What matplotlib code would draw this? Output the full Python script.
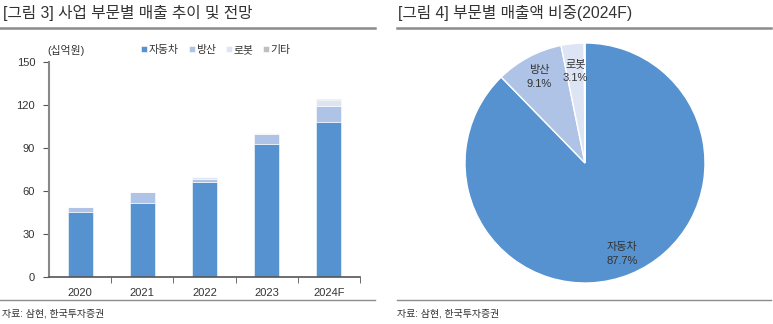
import matplotlib
matplotlib.use("Agg")
import matplotlib.pyplot as plt
import numpy as np
from matplotlib.lines import Line2D

plt.rcParams['font.family'] = ['Liberation Sans', 'Noto Sans CJK KR', 'DejaVu Sans']

# data
years = ["2020", "2021", "2022", "2023", "2024F"]
seg_names = ["자동차", "방산", "로봇", "기타"]
auto = [45.6, 51.9, 66.0, 92.8, 108.4]
defense = [3.2, 7.6, 2.4, 6.8, 10.9]
robot = [0.0, 0.0, 1.4, 0.6, 4.2]
etc = [0.0, 0.0, 0.0, 0.0, 0.7]
yticks = [0, 30, 60, 90, 120, 150]

pie_names = ["자동차", "방산", "로봇", "기타"]
pie_share = [87.7, 9.1, 3.1, 0.1]

colors = ["#5592CF", "#AEC3E6", "#DDE5F5", "#BFBFBF"]
txt = "#333333"
W, H = 773, 324

fig = plt.figure(figsize=(W / 100, H / 100), dpi=100)

def fx(px):
    return px / W

def fy(py):
    return 1 - py / H

# header / footer rules
fig.add_artist(Line2D([fx(0), fx(375)], [fy(28), fy(28)], color="#8c8c8c", lw=1.8))
fig.add_artist(Line2D([fx(0), fx(375)], [fy(300), fy(300)], color="#8c8c8c", lw=1.0))
fig.add_artist(Line2D([fx(397), fx(771)], [fy(28), fy(28)], color="#8c8c8c", lw=1.8))
fig.add_artist(Line2D([fx(397), fx(771)], [fy(300), fy(300)], color="#8c8c8c", lw=1.0))

fig.text(fx(3), fy(13), "[그림 3] 사업 부문별 매출 추이 및 전망", fontsize=11.3, color=txt, va="center")
fig.text(fx(398), fy(13), "[그림 4] 부문별 매출액 비중(2024F)", fontsize=11.3, color=txt, va="center")
fig.text(fx(2), fy(313), "자료: 삼현, 한국투자증권", fontsize=7.2, color=txt, va="center")
fig.text(fx(397), fy(313), "자료: 삼현, 한국투자증권", fontsize=7.2, color=txt, va="center")

# bar chart
ax = fig.add_axes([fx(49), fy(277), (360 - 49) / W, (277 - 62) / H])
x = np.arange(len(years))
bottom = np.zeros(len(years))
for name, vals, c in zip(seg_names, [auto, defense, robot, etc], colors):
    ax.bar(x, vals, 0.4, bottom=bottom, color=c, label=name,
           edgecolor="white", linewidth=0.4)
    bottom += np.array(vals)

ax.set_xlim(-0.5, len(years) - 0.5)
ax.set_ylim(0, 150)
ax.set_yticks(yticks)
ax.set_xticks(x)
ax.set_xticklabels(years)
ax.set_xticks(np.arange(len(years)) + 0.5, minor=True)
ax.tick_params(axis="x", which="major", length=0, pad=8, labelsize=8, labelcolor=txt)
ax.tick_params(axis="x", which="minor", length=4, direction="out", color="#555555")
ax.tick_params(axis="y", length=4, direction="out", color="#555555", labelsize=8,
               labelcolor=txt, pad=6)
for s in ["top", "right"]:
    ax.spines[s].set_visible(False)
ax.spines["left"].set_color("#888888")
ax.spines["left"].set_linewidth(1.5)
ax.spines["bottom"].set_color("#555555")
ax.spines["bottom"].set_linewidth(1.2)

fig.text(fx(47), fy(50), "(십억원)", fontsize=7.8, color=txt, va="center")
leg = ax.legend(loc="center", bbox_to_anchor=(fx(216), fy(50)), bbox_transform=fig.transFigure,
                ncol=4, frameon=False, fontsize=7.8, handlelength=0.55, handleheight=0.55,
                handletextpad=0.15, columnspacing=0.9, borderaxespad=0)
for t in leg.get_texts():
    t.set_color(txt)

# pie chart
R = 120
pax = fig.add_axes([fx(585 - R), fy(163 + R), 2 * R / W, 2 * R / H])
wedges, _ = pax.pie(pie_share, colors=colors, startangle=90, counterclock=False,
                    wedgeprops=dict(edgecolor="white", linewidth=1.0))
pax.set_xlim(-1, 1)
pax.set_ylim(-1, 1)
pax.set_aspect("equal")
label_r = [0.82, 0.81, 0.77]
for w, name, share, r in zip(wedges[:3], pie_names[:3], pie_share[:3], label_r):
    ang = np.deg2rad((w.theta1 + w.theta2) / 2)
    pax.text(r * np.cos(ang), r * np.sin(ang), f"{name}\n{share:.1f}%", ha="center",
             va="center", fontsize=8, color=txt, linespacing=1.5)

fig.savefig("out.png", dpi=100)
